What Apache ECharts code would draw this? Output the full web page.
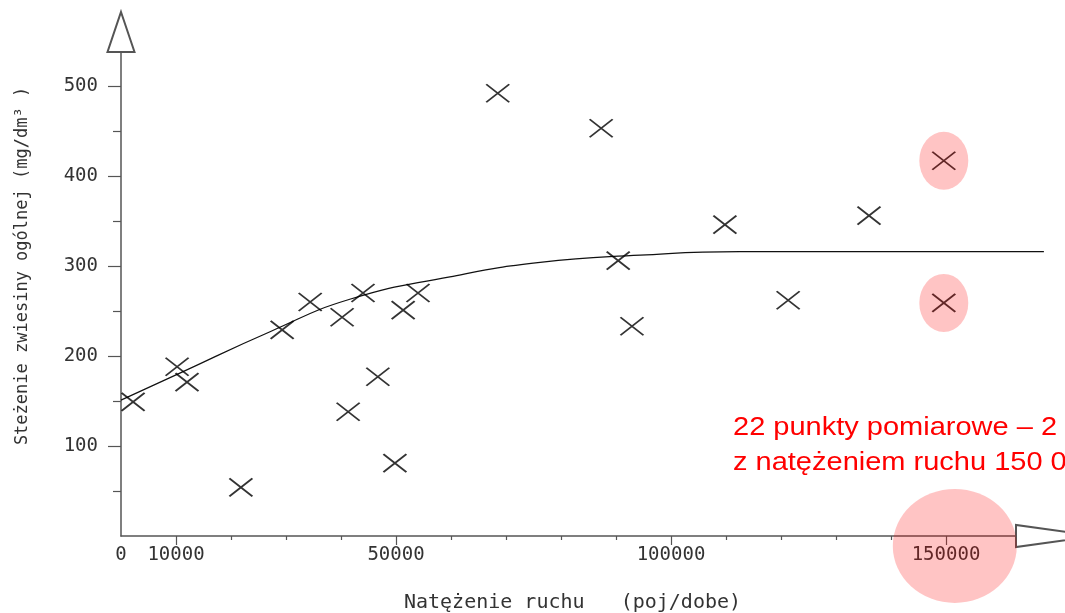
<!DOCTYPE html>
<html>
<head>
<meta charset="utf-8">
<script src="https://cdn.jsdelivr.net/npm/echarts@6/dist/echarts.min.js"></script>
<style>
  html, body { margin: 0; padding: 0; background: #fff; }
  #chart { width: 1065px; height: 613px; }
</style>
</head>
<body>
<div id="chart"></div>
<script>
// measurement points: traffic (veh/day) vs total suspended solids
const traffic = [2200, 10200, 12000, 21800, 29300, 34400, 40200, 41300, 44000, 46700, 49800,
                 51300, 54000, 68500, 87300, 90400, 92900, 109800, 121300, 136000, 149600, 149600]
const tss = [149, 188, 171, 54, 229, 260, 243, 138, 270, 177, 81,
             251, 270, 492, 453, 306, 233, 346, 262, 356, 417, 259]

// fitted curve
const fitX = [0, 10700, 27100, 41600, 59800, 76200, 94400, 112500, 167800]
const fitY = [151, 181, 227, 263, 288, 304, 312, 316, 316]

// the two points at 150 000 and the marked spot on the axis
const highlighted = [[149600, 417], [149600, 259]]
const axisMark = [[151600, -11]]

const xLabelValues = [0, 10000, 50000, 100000, 150000]
const xMajorTicks = [10000, 50000, 100000, 150000]
const xMinorTicks = [20000, 30000, 40000, 60000, 70000, 80000, 90000, 110000, 120000, 130000, 140000]
const yLabelValues = [100, 200, 300, 400, 500]
const yMinorTicks = [50, 150, 250, 350, 450]

const noteLines = ['22 punkty pomiarowe – 2', 'z natężeniem ruchu 150 000']

// 5.5 px per 1000 veh, 0.9 px per mg
const X_MAX = 895 / 5.5 * 1000
const X_MAX_FIT = 923 / 5.5 * 1000   // the fitted curve runs past the axis arrow
const Y_MAX = 484 / 0.9
const axisColor = '#555'
const mono = 'DejaVu Sans Mono'

const chart = echarts.init(document.getElementById('chart'), null, { renderer: 'canvas' })

const zip = (xs, ys) => xs.map((x, i) => [x, ys[i]])
const plain = (v) => String(Math.round(v))

chart.setOption({
  animation: false,
  backgroundColor: '#fff',
  grid: [
    { left: 121, right: 49, top: 52, bottom: 77, outerBoundsMode: 'none' },
    { left: 121, right: 21, top: 52, bottom: 77, outerBoundsMode: 'none' }
  ],
  xAxis: [{
    type: 'value', min: 0, max: X_MAX, position: 'bottom',
    axisLine: {
      show: true, onZero: false,
      symbol: ['none', 'emptyTriangle'], symbolSize: [22, 79], symbolOffset: [0, 39.5],
      lineStyle: { color: axisColor, width: 1.5 }
    },
    axisTick: { show: true, customValues: xMajorTicks, length: 9, lineStyle: { color: axisColor, width: 1.2 } },
    axisLabel: { show: true, customValues: xLabelValues, formatter: plain, margin: 10, fontFamily: mono, fontSize: 19, color: '#333' },
    splitLine: { show: false },
    name: 'Natężenie ruchu   (poj/dobe)',
    nameLocation: 'middle', nameGap: 57,
    nameTextStyle: { fontFamily: mono, fontSize: 20, color: '#333', padding: [0, 0, 0, 8] }
  }, {
    type: 'value', min: 0, max: X_MAX, position: 'bottom',
    axisLine: { show: false },
    axisTick: { show: true, customValues: xMinorTicks, length: 4, lineStyle: { color: axisColor, width: 1.2 } },
    axisLabel: { show: false },
    splitLine: { show: false }
  }, {
    type: 'value', gridIndex: 1, min: 0, max: X_MAX_FIT, show: false
  }],
  yAxis: [{
    type: 'value', min: 0, max: Y_MAX, position: 'left',
    axisLine: {
      show: true, onZero: false,
      symbol: ['none', 'emptyTriangle'], symbolSize: [27, 40], symbolOffset: [0, 20],
      lineStyle: { color: axisColor, width: 1.5 }
    },
    axisTick: { show: true, customValues: yLabelValues, length: 13, lineStyle: { color: axisColor, width: 1.2 } },
    axisLabel: { show: true, customValues: yLabelValues, formatter: plain, margin: 23, fontFamily: mono, fontSize: 19, color: '#333' },
    splitLine: { show: false },
    name: 'Steżenie zwiesiny ogólnej (mg/dm³ )',
    nameLocation: 'middle', nameGap: 90, nameRotate: 90,
    nameTextStyle: { fontFamily: mono, fontSize: 17, color: '#333', padding: [0, 0, 0, 56] }
  }, {
    type: 'value', min: 0, max: Y_MAX, position: 'left',
    axisLine: { show: false },
    axisTick: { show: true, customValues: yMinorTicks, length: 8, lineStyle: { color: axisColor, width: 1.2 } },
    axisLabel: { show: false },
    splitLine: { show: false }
  }, {
    type: 'value', gridIndex: 1, min: 0, max: Y_MAX, show: false
  }],
  series: [{
    name: 'fit',
    type: 'line',
    xAxisIndex: 2, yAxisIndex: 2,
    data: zip(fitX, fitY),
    smooth: 0.5,
    showSymbol: false,
    silent: true,
    lineStyle: { color: '#111', width: 1.2 },
    z: 2
  }, {
    name: 'pomiary',
    type: 'scatter',
    data: zip(traffic, tss),
    symbol: 'path://M0,0L23,18M0,18L23,0',
    symbolSize: [23, 18],
    itemStyle: { color: 'rgba(0,0,0,0)', borderColor: '#000', borderWidth: 1.8 },
    silent: true,
    z: 3
  }, {
    name: 'highlight',
    type: 'scatter',
    data: highlighted,
    symbol: 'circle',
    symbolSize: [49, 58],
    itemStyle: { color: 'rgba(255,0,0,0.29)' },
    silent: true,
    z: 4
  }, {
    name: 'axis mark',
    type: 'scatter',
    data: axisMark,
    symbol: 'circle',
    symbolSize: [124, 114],
    clip: false,
    itemStyle: { color: 'rgba(255,0,0,0.29)' },
    silent: true,
    z: 4
  }],
  graphic: noteLines.map((line, i) => ({
    type: 'text',
    x: 733,
    y: 428 + i * 35,
    scaleX: 1.16,
    silent: true,
    style: {
      text: line,
      font: '25px "Liberation Sans", Arial, sans-serif',
      fill: '#ff0000',
      verticalAlign: 'middle'
    }
  }))
})
</script>
</body>
</html>
